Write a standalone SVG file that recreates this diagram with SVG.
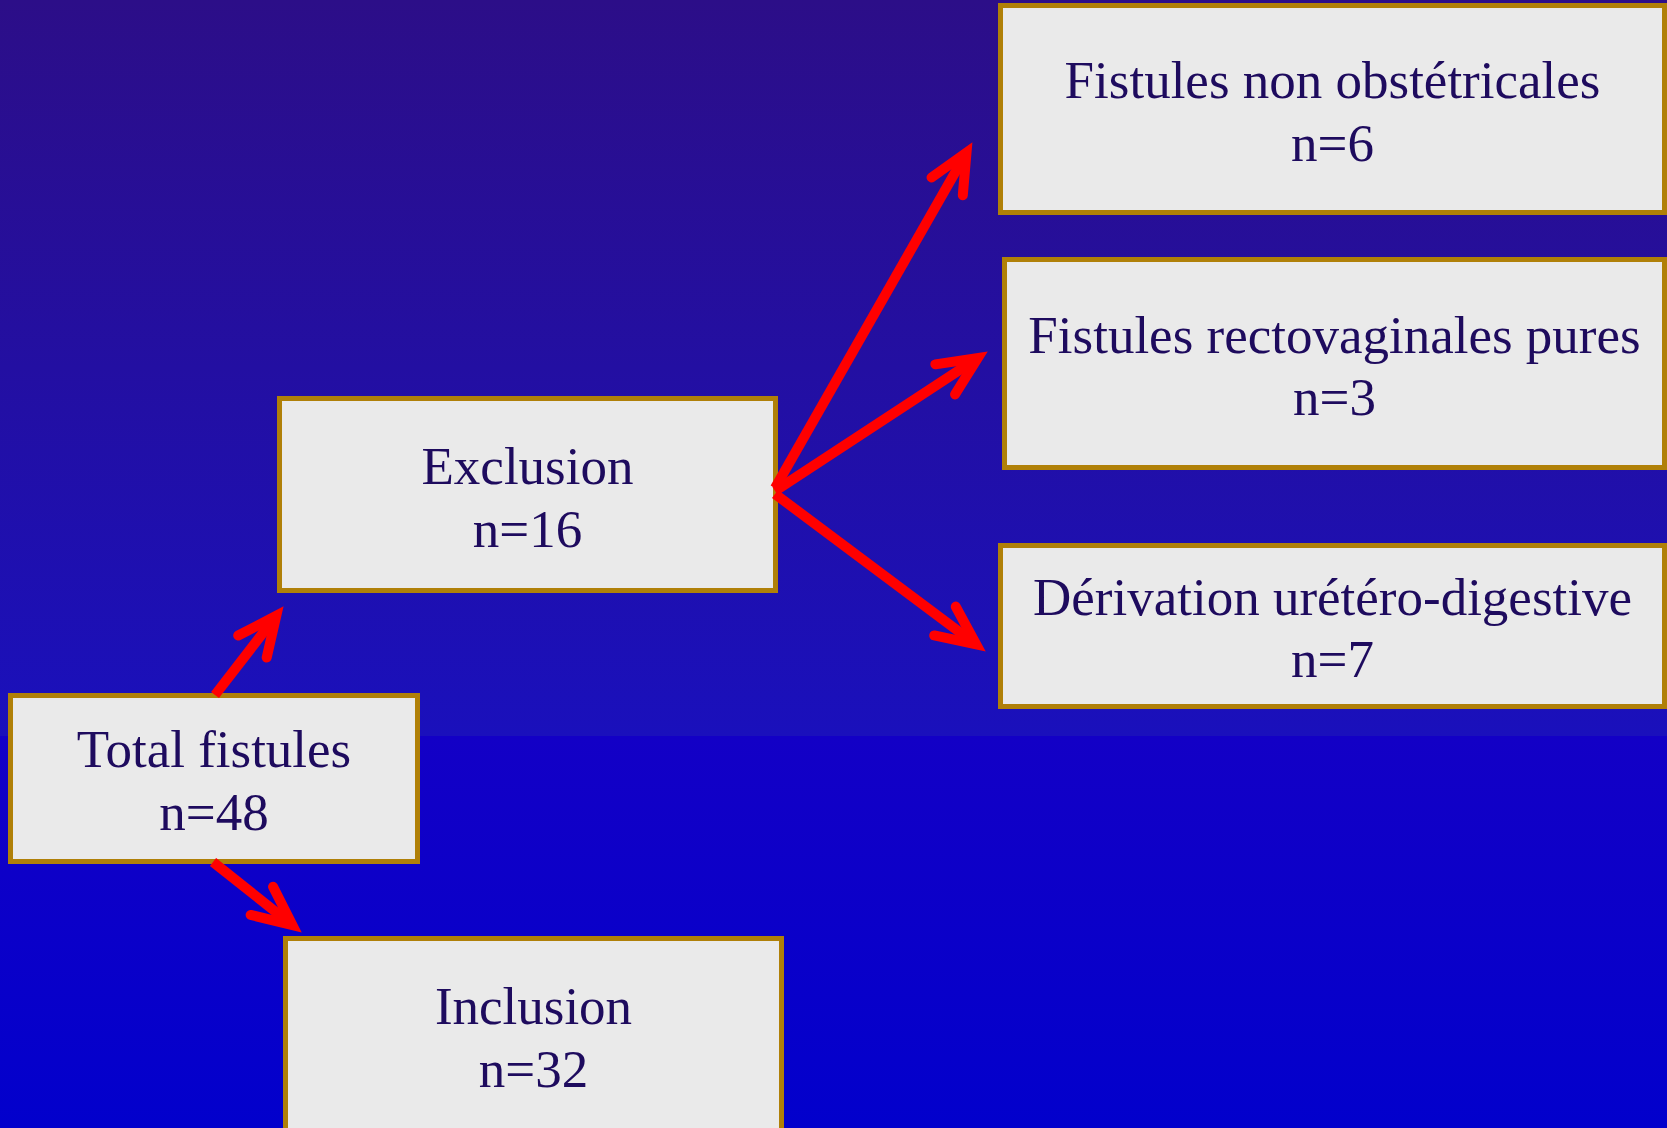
<svg xmlns="http://www.w3.org/2000/svg" width="1667" height="1128" viewBox="0 0 1667 1128">
<defs>
<linearGradient id="bgTop" x1="0" y1="0" x2="0" y2="736" gradientUnits="userSpaceOnUse">
<stop offset="0" stop-color="#2C0E88"/>
<stop offset="1" stop-color="#1A10BC"/>
</linearGradient>
<linearGradient id="bgBot" x1="0" y1="736" x2="0" y2="1128" gradientUnits="userSpaceOnUse">
<stop offset="0" stop-color="#1300C6"/>
<stop offset="1" stop-color="#0200CC"/>
</linearGradient>
<marker id="head" markerUnits="userSpaceOnUse" orient="auto" refX="0" refY="0" markerWidth="80" markerHeight="80" overflow="visible">
<path d="M -39 -18 L 0 0 L -39 18" fill="none" stroke="#FF0000" stroke-width="10" stroke-linecap="round" stroke-linejoin="miter"/>
</marker>
</defs>
<style>
.box{fill:#EAEAEA;stroke:#B08008;stroke-width:5}
.lbl{font-family:"Liberation Serif","Times New Roman",serif;font-size:53px;fill:#1E0B5E;text-anchor:middle}
.arr{fill:none;stroke:#FF0000;stroke-width:10;stroke-linecap:butt;marker-end:url(#head)}
</style>
<rect x="0" y="0" width="1667" height="736" fill="url(#bgTop)"/>
<rect x="0" y="736" width="1667" height="392" fill="url(#bgBot)"/>

<g id="node-total">
<rect class="box" x="10.5" y="695.5" width="407" height="166"/>
<text class="lbl" x="214" y="767">Total fistules</text>
<text class="lbl" x="214" y="830">n=48</text>
</g>
<g id="node-exclusion">
<rect class="box" x="279.5" y="398.5" width="496" height="192"/>
<text class="lbl" x="527.5" y="484">Exclusion</text>
<text class="lbl" x="527.5" y="547">n=16</text>
</g>
<g id="node-inclusion">
<rect class="box" x="285.5" y="938.5" width="496" height="210"/>
<text class="lbl" x="533.5" y="1024">Inclusion</text>
<text class="lbl" x="533.5" y="1087">n=32</text>
</g>
<g id="node-nonobst">
<rect class="box" x="1000.5" y="5.5" width="664" height="207"/>
<text class="lbl" x="1332.5" y="98">Fistules non obstétricales</text>
<text class="lbl" x="1332.5" y="161">n=6</text>
</g>
<g id="node-rectovag">
<rect class="box" x="1004.5" y="259.5" width="660" height="208"/>
<text class="lbl" x="1334.5" y="353">Fistules rectovaginales pures</text>
<text class="lbl" x="1334.5" y="415">n=3</text>
</g>
<g id="node-derivation">
<rect class="box" x="1000.5" y="545.5" width="664" height="161"/>
<text class="lbl" x="1332.5" y="615">Dérivation urétéro-digestive</text>
<text class="lbl" x="1332.5" y="677">n=7</text>
</g>

<g id="connectors">
<path class="arr" d="M 215 695 L 276.3 615.7"/>
<path class="arr" d="M 213 862 L 292.4 925.1"/>
<path class="arr" d="M 775 488 L 966.5 152.5"/>
<path class="arr" d="M 775 491 L 977.8 358"/>
<path class="arr" d="M 775 494 L 976.2 644.4"/>
</g>
</svg>
